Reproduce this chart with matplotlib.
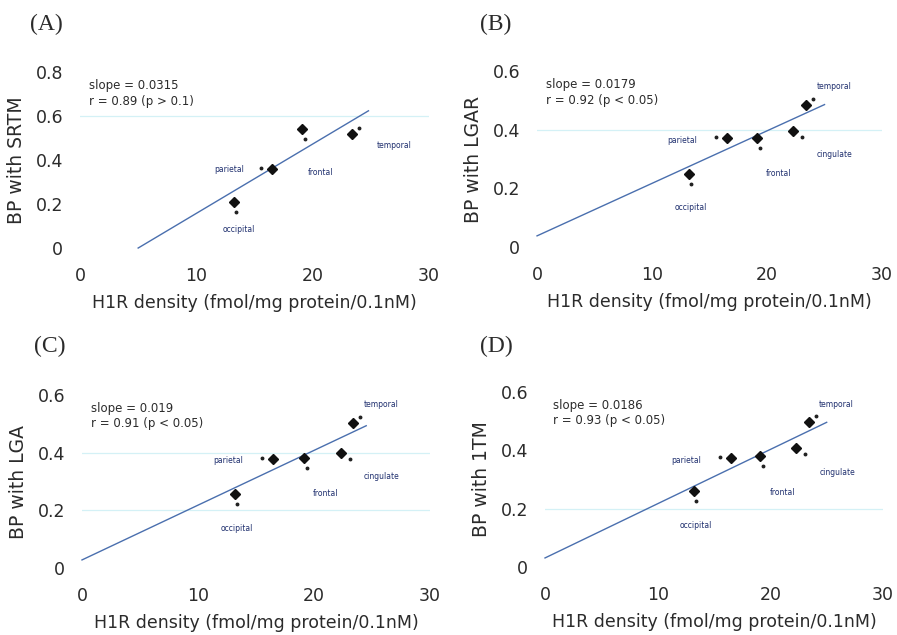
import numpy as np
import matplotlib
matplotlib.use('Agg')
import matplotlib.pyplot as plt
from matplotlib.transforms import offset_copy

# regional values
regions = ['occipital', 'parietal', 'frontal', 'cingulate', 'temporal']
h1r_density = [13.2, 16.5, 19.1, 22.3, 23.4]

bp_srtm = [0.21, 0.36, 0.54, np.nan, 0.52]
bp_lgar = [0.25, 0.37, 0.373, 0.397, 0.485]
bp_lga = [0.255, 0.379, 0.383, 0.40, 0.503]
bp_1tm = [0.26, 0.373, 0.38, 0.407, 0.497]

panel_tags = ['(A)', '(B)', '(C)', '(D)']
ylabels = ['BP with SRTM', 'BP with LGAR', 'BP with LGA', 'BP with 1TM']
slopes = [0.0315, 0.0179, 0.019, 0.0186]
intercepts = [-0.1575, 0.038, 0.028, 0.031]
fit_ranges = [(5, 24.8), (0, 25), (0, 24.5), (0, 25)]
stats = ['slope = 0.0315\nr = 0.89 (p > 0.1)',
         'slope = 0.0179\nr = 0.92 (p < 0.05)',
         'slope = 0.019\nr = 0.91 (p < 0.05)',
         'slope = 0.0186\nr = 0.93 (p < 0.05)']
ymax = [0.8, 0.6, 0.6, 0.6]
faint_lines = [[0.6], [0.4], [0.2, 0.4], [0.2]]

# label offsets in pixels (x right, y up)
label_off_a = {'occipital': (5, -28), 'parietal': (-43, -1), 'frontal': (18, -43),
               'temporal': (42, -12)}
label_off = {'occipital': (2, -34), 'parietal': (-45, -2), 'frontal': (22, -36),
             'cingulate': (41, -24), 'temporal': (28, 18)}
dot_off = {'occipital': (2, -10), 'parietal': (-11, 1), 'frontal': (3, -10),
           'cingulate': (9, -6), 'temporal': (7, 6)}

axes_pos = [[0.0892, 0.6094, 0.389, 0.2772],
            [0.5987, 0.611, 0.3846, 0.2772],
            [0.0914, 0.1055, 0.388, 0.2724],
            [0.6076, 0.1071, 0.3768, 0.2756]]
tag_pos = [(0.052, 0.962), (0.553, 0.962), (0.055, 0.455), (0.553, 0.455)]

txt = '#2b2b2b'
fig = plt.figure(figsize=(8.97, 6.35), dpi=100)
series = [bp_srtm, bp_lgar, bp_lga, bp_1tm]

for i in range(4):
    ax = fig.add_axes(axes_pos[i])
    ax.set_xlim(0, 30)
    ax.set_ylim(0, ymax[i])
    for s in ax.spines.values():
        s.set_visible(False)
    ax.set_xticks([0, 10, 20, 30])
    if ymax[i] > 0.7:
        ax.set_yticks([0, 0.2, 0.4, 0.6, 0.8], ['0', '0.2', '0.4', '0.6', '0.8'])
    else:
        ax.set_yticks([0, 0.2, 0.4, 0.6], ['0', '0.2', '0.4', '0.6'])
    ax.tick_params(length=0, labelsize=12.5, labelcolor=txt)
    ax.tick_params(axis='x', pad=14)
    ax.tick_params(axis='y', pad=12)
    ax.set_xlabel('H1R density (fmol/mg protein/0.1nM)', fontsize=12.5, color=txt, labelpad=6)
    ax.set_ylabel(ylabels[i], fontsize=13.5, color=txt, labelpad=7)

    for yv in faint_lines[i]:
        ax.axhline(yv, color='#d4f1f6', lw=0.9, zorder=0)

    x0, x1 = fit_ranges[i]
    xs = np.array([x0, x1])
    ax.plot(xs, intercepts[i] + slopes[i] * xs, color='#4a6fae', lw=1.0, clip_on=False)

    ys = series[i]
    ax.plot(h1r_density, ys, 'D', color='#111111', ms=5.5, clip_on=False, zorder=3)

    offs = label_off_a if i == 0 else label_off
    for name, xv, yv in zip(regions, h1r_density, ys):
        if np.isnan(yv):
            continue
        dx, dy = dot_off[name]
        tr = offset_copy(ax.transData, fig=fig, x=dx, y=dy, units='dots')
        ax.plot([xv], [yv], 'o', color='#222222', ms=1.8, transform=tr, clip_on=False)
        lx, ly = offs[name]
        ax.annotate(name, (xv, yv), xytext=(lx, ly), textcoords='offset pixels',
                    ha='center', va='center', fontsize=5.5, color='#1f2f6e',
                    annotation_clip=False)

    ax.text(0.025, 0.96, stats[i], transform=ax.transAxes, fontsize=8.5,
            color=txt, va='top', ha='left', linespacing=1.25)

    fig.text(tag_pos[i][0], tag_pos[i][1], panel_tags[i], fontsize=17,
             family='Liberation Serif', color=txt, ha='center', va='center')

fig.savefig('out.png', dpi=100)
